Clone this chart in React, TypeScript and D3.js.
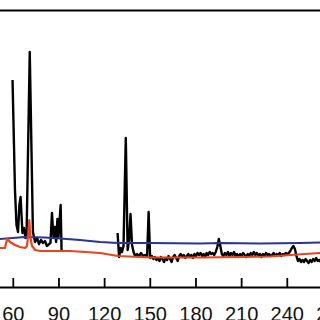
import React from 'react';
import * as d3 from 'd3';

// black trace: two recorded stretches, gap in between
const blackSegA: [number, number][] = [
    [59.5, 207], [61.1, 97], [62.1, 62], [63.1, 55], [64.0, 82], [64.8, 90], [65.4, 72],
    [66.0, 54], [67.0, 59], [68.0, 49], [68.7, 50], [70.8, 235], [72.9, 55], [74.3, 45],
    [75.6, 49], [76.9, 43], [78.2, 47], [79.5, 44], [80.8, 46], [82.1, 41], [83.5, 43],
    [84.4, 44], [85.4, 74], [86.4, 50], [87.4, 60], [88.1, 45], [89.0, 68], [89.7, 50],
    [91.1, 82], [91.7, 37]
];

const blackSegB: [number, number][] = [
    [128.5, 54], [129.5, 30], [130.5, 39], [131.4, 35], [132.4, 41], [133.9, 149], [135.1, 37],
    [136.1, 47], [137.0, 73], [138.0, 42], [139.0, 35], [140.0, 31], [141.3, 33], [142.6, 31],
    [143.9, 34], [145.3, 31], [146.6, 32], [147.9, 31], [148.9, 75], [149.9, 29]
];

// noisy tail, one reading per unit from 151 to 262
const tailStart = 151;
const blackTail = [
    31, 28, 30, 27, 29, 26, 30, 28, 25, 29,
    27, 31, 28, 25, 30, 32, 29, 26, 31, 33,
    30, 32, 29, 31, 33, 30, 32, 29, 33, 31,
    34, 32, 34, 31, 33, 30, 34, 32, 35, 33,
    34, 32, 35, 40, 48, 41, 33, 31, 34, 32,
    35, 31, 34, 32, 35, 31, 33, 30, 33, 31,
    34, 32, 30, 33, 31, 34, 32, 35, 32, 34,
    31, 33, 30, 33, 31, 34, 32, 33, 31, 32,
    34, 31, 33, 32, 34, 31, 33, 32, 34, 33,
    34, 36, 39, 41, 38, 31, 26, 28, 25, 27,
    25, 28, 26, 24, 27, 25, 28, 26, 29, 26, 27, 25
];

const blueLine: [number, number][] = [
    [51.2, 48], [67.7, 50], [80.8, 49.5], [90.7, 48.5], [103.8, 47], [117.0, 45],
    [128.8, 44], [149.9, 44], [182.7, 43.5], [195.9, 44], [222.2, 43.5], [248.5, 44], [261.7, 44.5]
];

const redLine: [number, number][] = [
    [51.2, 39], [54.5, 39], [56.0, 48.5], [57.8, 45], [61.1, 42], [64.4, 40], [67.7, 39],
    [69.0, 41], [70.0, 55], [70.5, 67], [71.3, 49], [72.3, 41], [74.3, 37], [77.6, 36],
    [97.3, 36], [117.0, 34], [128.8, 31], [149.9, 29.5], [182.7, 29.5], [209.1, 30],
    [228.8, 30.5], [242.0, 32], [261.7, 34]
];

const xTicks = [30, 60, 90, 120, 150, 180, 210, 240, 270, 300];

const App: React.FC = () => {
    const width = 320;
    const height = 320;
    const x = d3.scaleLinear().domain([60, 240]).range([13.3, 287.3]);
    const y = d3.scaleLinear().domain([0, 277]).range([287, 10]);
    const line = d3.line<[number, number]>(d => x(d[0]), d => y(d[1]));
    const tail: [number, number][] = blackTail.map((v, i) => [tailStart + i, v]);
    const segB = blackSegB.concat(tail);
    const axisY = y(0);

    return (
        <svg width={width} height={height}
            style={{ position: 'absolute', left: 0, top: 0, background: '#fff' }}>
            <g fill="none" strokeLinejoin="round">
                <path d={line(blackSegA) ?? ''} stroke="#000" strokeWidth={2.4} />
                <path d={line(segB) ?? ''} stroke="#000" strokeWidth={2.4} />
                <path d={line(blueLine) ?? ''} stroke="#2a3590" strokeWidth={2.2} />
                <path d={line(redLine) ?? ''} stroke="#e9441d" strokeWidth={2.2} />
            </g>
            <line x1={0} x2={width} y1={y(277) + 0.5} y2={y(277) + 0.5} stroke="#000" strokeWidth={2.2} />
            <line x1={0} x2={width} y1={axisY + 0.5} y2={axisY + 0.5} stroke="#000" strokeWidth={1.8} />
            <g fontFamily="'Liberation Sans', Arial, sans-serif" fontSize={20} textAnchor="middle" fill="#111">
                {xTicks.map(t => (
                    <g key={t}>
                        <line x1={x(t)} x2={x(t)} y1={axisY - 9} y2={axisY} stroke="#000" strokeWidth={1.8} />
                        <text x={x(t)} y={321}>{t}</text>
                    </g>
                ))}
            </g>
        </svg>
    );
};

export default App;
